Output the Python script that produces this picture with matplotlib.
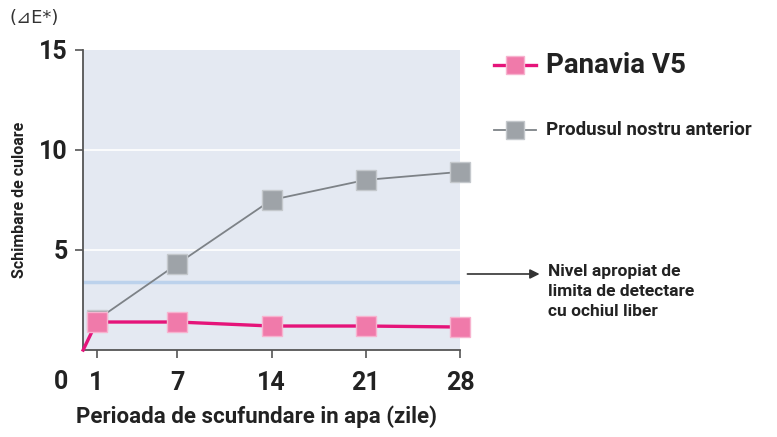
import matplotlib.pyplot as plt
from matplotlib.lines import Line2D

days = [0, 1, 7, 14, 21, 28]
panavia = [0, 1.4, 1.4, 1.2, 1.2, 1.15]
prev_days = [1, 7, 14, 21, 28]
previous = [1.5, 4.3, 7.5, 8.5, 8.9]
threshold = 3.4
x_ticks = [1, 7, 14, 21, 28]
y_ticks = [5, 10, 15]

plt.rcParams['font.family'] = ['Roboto', 'DejaVu Sans']
plt.rcParams['font.weight'] = 'bold'
plt.rcParams['axes.labelweight'] = 'bold'

pink = '#e5147a'
pink_face = '#f07aaa'
grey = '#7d8287'
grey_face = '#9ea3a8'

fig = plt.figure(figsize=(7.77, 4.37), dpi=100)
ax = fig.add_axes([0.107, 0.199, 0.485, 0.687])
ax.set_facecolor('#e4e9f2')
ax.set_xlim(0, 28)
ax.set_ylim(0, 15)

for v in [5, 10]:
    ax.axhline(v, color='white', lw=1.2, zorder=1)
ax.axhline(threshold, color='#bcd2ec', lw=2.5, zorder=1)

ax.plot(prev_days, previous, color=grey, lw=1.3, marker='s', ms=14,
        mfc=grey_face, mec='#c4c8cc', mew=1, zorder=3, clip_on=False)
ax.plot(days, panavia, color=pink, lw=2.4, zorder=4, clip_on=False)
ax.plot(days[1:], panavia[1:], ls='none', marker='s', ms=14,
        mfc=pink_face, mec='#f7b3cf', mew=1, zorder=5, clip_on=False)

for s in ['top', 'right']:
    ax.spines[s].set_visible(False)
for s in ['left', 'bottom']:
    ax.spines[s].set_color('#555555')
    ax.spines[s].set_linewidth(1.3)

ax.set_xticks(x_ticks)
ax.set_yticks(y_ticks)
ax.tick_params(axis='both', length=6, width=1.2, color='#555555',
               labelsize=18, labelcolor='#222222')
ax.tick_params(axis='x', pad=9)
ax.tick_params(axis='y', pad=5)

ax.set_xlabel('Perioada de scufundare in apa (zile)', fontsize=16,
              color='#222222')
ax.xaxis.set_label_coords(0.46, -0.185)
ax.set_ylabel('Schimbare de culoare', fontsize=11.5, color='#222222')
ax.yaxis.set_label_coords(-0.15, 0.5)

fig.text(0.078, 0.125, '0', fontsize=18, color='#222222', ha='center', va='center')
fig.text(0.012, 0.958, '(\u22bfE*)', fontsize=13, color='#333333',
         family=['DejaVu Sans'], fontweight='normal', va='center')

# legend
leg_items = [(pink, pink_face, '#f7b3cf', 'Panavia V5', 20, 0.851),
             (grey, grey_face, '#c4c8cc', 'Produsul nostru anterior', 13.5, 0.703)]
for lc, fc, ec, label, fs, yy in leg_items:
    fig.add_artist(Line2D([0.636, 0.69], [yy, yy], color=lc, lw=2.4 if lc == pink else 1.3))
    fig.add_artist(Line2D([0.663], [yy], marker='s', ms=13, mfc=fc, mec=ec, mew=1, ls='none'))
    fig.text(0.703, yy, label, fontsize=fs, color='#222222', va='center')

ax.annotate('', xy=(0.698, 0.373), xytext=(0.598, 0.373), xycoords='figure fraction',
            arrowprops=dict(arrowstyle='-|>', color='#333333', lw=1.2, mutation_scale=14))
fig.text(0.705, 0.397, 'Nivel apropiat de\nlimita de detectare\ncu ochiul liber',
         fontsize=12.5, color='#222222', va='top', linespacing=1.45)

fig.savefig('out.png', dpi=100)
